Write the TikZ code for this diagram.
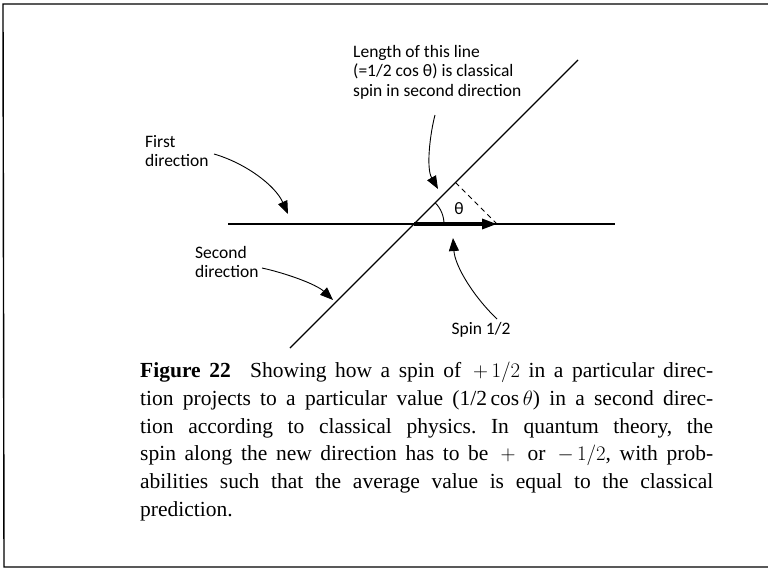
\documentclass[tikz,border=0pt]{standalone}
\usepackage{fontspec}
\setmainfont{Liberation Serif}
\newfontfamily\lblfont{Carlito}
\usetikzlibrary{arrows.meta}
\tikzset{
  lbl/.style={font=\lblfont\fontsize{17.5}{19.5}\selectfont, align=left, inner sep=0pt},
  pointer/.style={line width=0.9pt, -{Triangle[length=13pt,width=10pt]}},
  axis/.style={line width=1.1pt},
  frame/.style={line width=1.4pt},
}
\begin{document}
\frenchspacing
\begin{tikzpicture}[x=1pt,y=-1pt]
\useasboundingbox (0,0) rectangle (768,576);
% frame
\coordinate (f1) at (3,4);
\coordinate (f2) at (768,4);
\coordinate (f3) at (4,567);
\coordinate (f4) at (768,567);
\draw[frame] (f2) -- (f1) -- (f3) -- (f4);
% geometry
\coordinate (O) at (414,224);
\coordinate (hl) at (228,224);
\coordinate (hr) at (615,224);
\coordinate (dl) at (290,348);
\coordinate (du) at (578,60);
\coordinate (T) at (497,224);
\coordinate (F) at (455.5,182.5);
\draw[axis] (hl) -- (hr);
\draw[axis] (dl) -- (du);
\draw[line width=3.2pt, -{Triangle[length=15pt,width=10pt]}] (O) -- (T);
\draw[line width=0.9pt, dash pattern=on 5pt off 4pt] (F) -- (T);
\draw[line width=0.9pt] (444,224) arc[start angle=0, end angle=-45, radius=30];
\node[lbl] (th) at (459,209) {θ};
% labels
\node[lbl, anchor=north west] (len) at (353,45) {Length of this line\\(=1/2 cos θ) is classical\\spin in second direction};
\node[lbl, anchor=north west] (first) at (145,135) {First\\direction};
\node[lbl, anchor=north west] (second) at (195,246) {Second\\direction};
\node[lbl] (spin) at (481,330) {Spin 1/2};
% pointer ends
\coordinate (lenS) at (435,115);
\coordinate (lenE) at (438,189);
\coordinate (firS) at (214,154);
\coordinate (firE) at (288,214);
\coordinate (secS) at (262,268);
\coordinate (secE) at (333,300);
\coordinate (spS) at (497,319);
\coordinate (spE) at (453,238);
\draw[pointer] (lenS) .. controls (430,134) and (426,168) .. (lenE);
\draw[pointer] (firS) .. controls (245,163) and (275,185) .. (firE);
\draw[pointer] (secS) .. controls (285,273) and (316,284) .. (secE);
\draw[pointer] (spS) .. controls (473,296) and (455,266) .. (spE);
% caption
\node[anchor=north west, inner sep=0pt, text width=573pt, align=justify,
      font=\fontsize{21.5}{27.7}\selectfont] (cap) at (140,362)
{\textbf{Figure 22}\hspace{0.5em} Showing how a spin of $\,+\,1/2$ in a particular direc-\linebreak
tion projects to a particular value (1/2\,cos\,$\theta$) in a second direc-\linebreak
tion according to classical physics. In quantum theory, the\linebreak
spin along the new direction has to be $\,+\,$ or $\,-\,1/2$, with prob-\linebreak
abilities such that the average value is equal to the classical\linebreak
prediction.};
\end{tikzpicture}
\end{document}
